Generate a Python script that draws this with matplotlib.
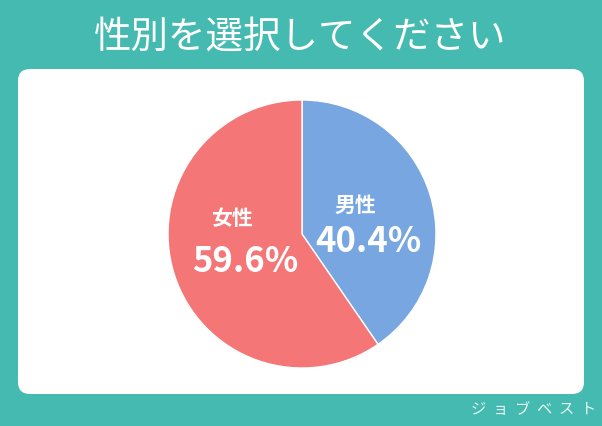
import matplotlib
matplotlib.use("Agg")
import matplotlib.pyplot as plt
from matplotlib.patches import FancyBboxPatch

plt.rcParams['font.family'] = ['Noto Sans CJK JP', 'DejaVu Sans']

title = "性別を選択してください"
categories = ["男性", "女性"]
shares = [40.4, 59.6]
colors = ["#77A6E0", "#F47677"]
watermark = "ジョブベスト"

W, H = 602, 427
fig = plt.figure(figsize=(W / 100, H / 100), dpi=100)
fig.patch.set_facecolor("#45BAB0")

# bottom layer: white rounded card
under = fig.add_axes([0, 0, 1, 1], zorder=0)
under.set_xlim(0, W)
under.set_ylim(H, 0)
under.axis("off")
under.add_patch(FancyBboxPatch((18, 70), 566, 325, boxstyle="round,pad=0,rounding_size=12",
                               facecolor="white", edgecolor="none"))
under.text(300, 37, title, color="white", fontsize=27, ha="center", va="center")
under.text(534, 410, "  ".join(watermark), color="#EAF7F5", fontsize=11,
           ha="center", va="center")

# pie
cx, cy, r = 302, 235, 134
ax = fig.add_axes([(cx - r) / W, 1 - (cy + r) / H, 2 * r / W, 2 * r / H], zorder=1)
ax.pie(shares, colors=colors, startangle=90, counterclock=False,
       wedgeprops=dict(edgecolor="white", linewidth=1.0))
ax.set_aspect("auto")
ax.set_xlim(-1, 1)
ax.set_ylim(-1, 1)

# top layer: slice labels
top = fig.add_axes([0, 0, 1, 1], zorder=2)
top.set_xlim(0, W)
top.set_ylim(H, 0)
top.axis("off")
top.patch.set_visible(False)

label_pos = [((355, 205), (368, 242)), ((232, 219), (245, 262))]
for name, val, ((nx, ny), (vx, vy)) in zip(categories, shares, label_pos):
    top.text(nx, ny, name, color="white", fontsize=15, fontweight="bold",
             ha="center", va="center")
    top.text(vx, vy, f"{val:.1f}%", color="white", fontsize=25, fontweight="bold",
             ha="center", va="center")

fig.savefig("out.png", dpi=100, facecolor=fig.get_facecolor())
